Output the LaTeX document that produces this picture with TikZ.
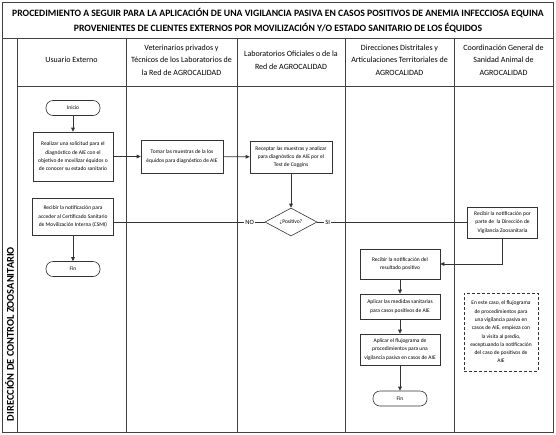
\documentclass[tikz,border=0pt]{standalone}
\usepackage{fontspec}
\setmainfont{Carlito}
\usetikzlibrary{shapes.geometric,arrows.meta}
\begin{document}
\begin{tikzpicture}[x=1pt,y=-1pt,
  ln/.style={draw=black!80,line width=0.6pt},
  arr/.style={ln,-{Triangle[length=4pt,width=3.6pt]}},
  frame/.style={draw=black!75,line width=0.6pt},
  boxtext/.style={font=\fontsize{5.5}{8.3}\selectfont,align=center},
  stepbox/.style={draw=black!80,line width=0.6pt,fill=white,boxtext,inner sep=0pt},
  termbox/.style={stepbox,rounded corners=7pt,minimum width=54pt,minimum height=15pt},
  dec/.style={stepbox,shape=diamond,minimum width=52pt,minimum height=28pt},
  hdr/.style={font=\fontsize{8}{12.5}\selectfont,align=center},
  lbl/.style={fill=white,inner sep=1pt,font=\fontsize{6.5}{7}\selectfont}
]
\useasboundingbox (0,0) rectangle (556,434);
% frame and lanes
\draw[frame] (2,2) rectangle (553,432);
\draw[frame] (2,38) -- (553,38);
\draw[frame] (17,86) -- (553,86);
\foreach \xx in {17,126,237,345,454}{\draw[frame] (\xx,38) -- (\xx,432);}
% title
\node[font=\bfseries\fontsize{9.7}{15}\selectfont,align=center] (title) at (278,21)
  {PROCEDIMIENTO A SEGUIR PARA LA APLICACIÓN DE UNA VIGILANCIA PASIVA EN CASOS POSITIVOS DE ANEMIA INFECCIOSA EQUINA\\
   PROVENIENTES DE CLIENTES EXTERNOS POR MOVILIZACIÓN Y/O ESTADO SANITARIO DE LOS ÉQUIDOS};
\node[rotate=90,font=\bfseries\fontsize{10.4}{11}\selectfont] (lane) at (9.5,334) {DIRECCIÓN DE CONTROL ZOOSANITARIO};
% headers
\node[hdr] (h1) at (71.5,60) {Usuario Externo};
\node[hdr] (h2) at (181.5,60) {Veterinarios privados y\\Técnicos de los Laboratorios de\\la Red de AGROCALIDAD};
\node[hdr] (h3) at (291,60) {Laboratorios Oficiales o de la\\Red de AGROCALIDAD};
\node[hdr] (h4) at (399.5,60) {Direcciones Distritales y\\Articulaciones Territoriales de\\AGROCALIDAD};
\node[hdr] (h5) at (503.5,60) {Coordinación General de\\Sanidad Animal de\\AGROCALIDAD};
% nodes
\node[termbox] (inicio) at (73,108) {Inicio};
\node[stepbox,minimum width=80pt,minimum height=49pt] (solic) at (73,156.5) {Realizar una solicitud para el\\diagnóstico de AIE con el\\objetivo de movilizar équidos o\\de conocer su estado sanitario};
\node[stepbox,minimum width=82pt,minimum height=33pt] (tomar) at (182,156.5) {Tomar las muestras de la los\\équidos para diagnóstico de AIE};
\node[stepbox,minimum width=82pt,minimum height=32pt] (recep) at (291,157) {Receptar las muestras y analizar\\para diagnóstico de AIE por el\\Test de Coggins};
\node[dec] (pos) at (291,222) {¿Positivo?};
\node[stepbox,minimum width=81pt,minimum height=37pt] (csmi) at (73,216.5) {Recibir la notificación para\\acceder al Certificado Sanitario\\de Movilización Interna (CSMI)};
\node[termbox] (fin1) at (73,269) {Fin};
\node[stepbox,minimum width=70pt,minimum height=31pt] (coord) at (502.5,222.5) {Recibir la notificación por\\parte de \ la Dirección de\\Vigilancia Zoosanitaria};
\node[stepbox,minimum width=80pt,minimum height=30pt] (result) at (400,264) {Recibir la notificación del\\resultado positivo};
\node[stepbox,minimum width=80pt,minimum height=25pt] (medidas) at (400,306.5) {Aplicar las medidas sanitarias\\para casos positivos de AIE};
\node[stepbox,minimum width=80pt,minimum height=31pt] (flujo) at (400,349.5) {Aplicar el flujograma de\\procedimientos para una\\vigilancia pasiva en casos de AIE};
\node[termbox] (fin2) at (400,398.5) {Fin};
\node[stepbox,dashed,dash pattern=on 3pt off 2pt,minimum width=74pt,minimum height=78pt] (nota) at (501,332)
  {En este caso, el flujograma\\de procedimientos para\\una vigilancia pasiva en\\casos de AIE, empieza con\\la visita al predio,\\exceptuando la notificación\\del caso de positivos de\\AIE};
% connectors
\draw[arr] (inicio) -- (solic);
\draw[arr] (solic) -- (tomar);
\draw[arr] (tomar) -- (recep);
\draw[arr] (recep) -- (pos);
\draw[ln] (pos.west) -- node[lbl,pos=0.1] {NO} (csmi.east |- pos.west);
\draw[ln] (pos.east) -- node[lbl,pos=0.07] {SI} (coord.west |- pos.east);
\draw[arr] (csmi) -- (fin1);
\draw[arr] (coord.south) |- (result.east);
\draw[arr] (result) -- (medidas);
\draw[arr] (medidas) -- (flujo);
\draw[arr] (flujo) -- (fin2);
\end{tikzpicture}
\end{document}
